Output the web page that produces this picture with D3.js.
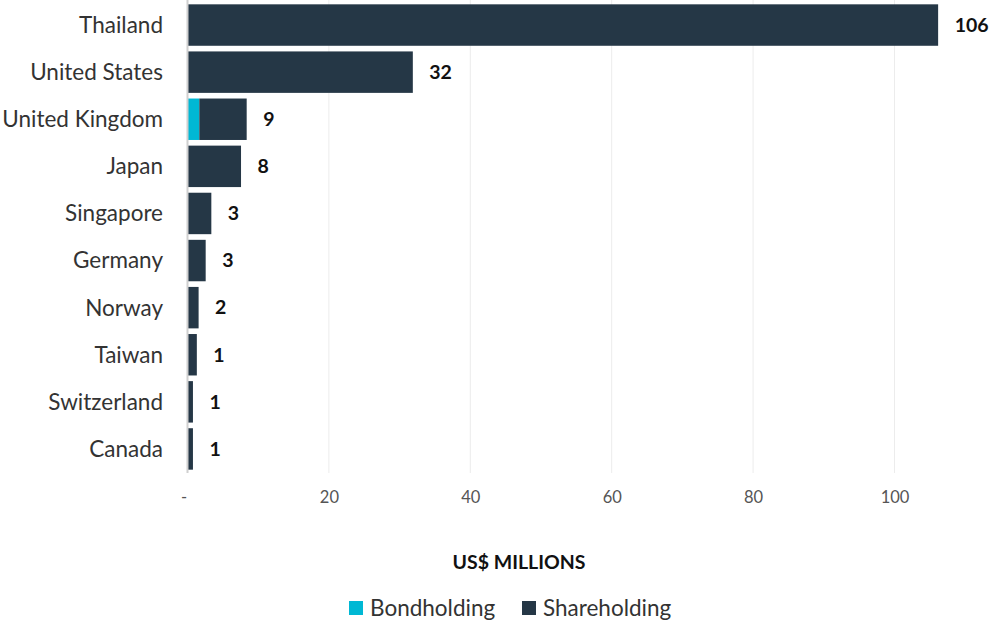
<!DOCTYPE html>
<html>
<head>
<meta charset="utf-8">
<script src="https://cdn.jsdelivr.net/npm/d3@7"></script>
<style>
  html, body { margin: 0; padding: 0; background: #fff; }
  svg { display: block; font-family: Lato, "Noto Sans", sans-serif; }
</style>
</head>
<body>
<svg id="chart" width="989" height="622"></svg>
<script>
const categories = ["Thailand", "United States", "United Kingdom", "Japan", "Singapore", "Germany", "Norway", "Taiwan", "Switzerland", "Canada"];
const bondholding = [0, 0, 1.6, 0, 0, 0, 0, 0, 0, 0];
const shareholding = [106.1, 31.8, 6.7, 7.5, 3.3, 2.5, 1.5, 1.25, 0.7, 0.7];
const valueLabels = ["106", "32", "9", "8", "3", "3", "2", "1", "1", "1"];
const xTicks = [0, 20, 40, 60, 80, 100];
const seriesNames = ["Bondholding", "Shareholding"];
const seriesColors = ["#00B8D4", "#253746"];

const svg = d3.select("#chart");
const x = d3.scaleLinear().domain([0, 112]).range([187.5, 187.5 + 7.07 * 112]);
const y = d3.scaleBand().domain(categories).range([1.5, 472.5]).paddingInner(0.12).paddingOuter(0.06);

// gridlines
svg.append("g").selectAll("line").data(xTicks.filter(d => d > 0)).join("line")
  .attr("x1", d => x(d)).attr("x2", d => x(d))
  .attr("y1", 0).attr("y2", 473)
  .attr("stroke", "#ececec").attr("stroke-width", 1);

// stacked data
const rows = categories.map((c, i) => ({ cat: c, Bondholding: bondholding[i], Shareholding: shareholding[i] }));
const stack = d3.stack().keys(seriesNames)(rows);

svg.append("g").selectAll("g").data(stack).join("g")
  .attr("fill", (d, i) => seriesColors[i])
  .selectAll("rect").data(d => d).join("rect")
  .attr("x", d => x(d[0]) + 0.5)
  .attr("y", d => y(d.data.cat))
  .attr("width", d => Math.max(0, x(d[1]) - x(d[0])))
  .attr("height", y.bandwidth());

// zero axis line
svg.append("line").attr("x1", x(0)).attr("x2", x(0)).attr("y1", 0).attr("y2", 473)
  .attr("stroke", "#d0d0d0").attr("stroke-width", 2);

// value labels
svg.append("g").selectAll("text").data(rows).join("text")
  .attr("x", (d, i) => x(bondholding[i] + shareholding[i]) + 17)
  .attr("y", d => y(d.cat) + y.bandwidth() / 2)
  .attr("dy", "0.35em")
  .attr("font-size", 19.5).attr("font-weight", "bold").attr("fill", "#111")
  .text((d, i) => valueLabels[i]);

// category labels
svg.append("g").selectAll("text").data(categories).join("text")
  .attr("x", 163).attr("y", d => y(d) + y.bandwidth() / 2)
  .attr("dy", "0.35em").attr("text-anchor", "end")
  .attr("font-size", 22.5).attr("fill", "#333")
  .text(d => d);

// x axis tick labels
const xAxis = d3.axisBottom(x).tickValues(xTicks).tickSize(0).tickPadding(0)
  .tickFormat(d => d === 0 ? "-" : d);
const gx = svg.append("g").attr("transform", "translate(0,491)").call(xAxis);
gx.select(".domain").remove();
gx.selectAll("text").attr("font-size", 16.5).attr("fill", "#555").attr("font-family", "Lato, sans-serif")
  .attr("transform", (d) => d === 0 ? "translate(-4,0)" : null);

// axis title
svg.append("text").attr("x", 519).attr("y", 562).attr("dy", "0.35em")
  .attr("text-anchor", "middle").attr("font-size", 19.5).attr("font-weight", "bold").attr("fill", "#111")
  .text("US$ MILLIONS");

// legend
const legendX = [349, 522];
const lg = svg.append("g").selectAll("g").data(seriesNames).join("g")
  .attr("transform", (d, i) => `translate(${legendX[i]},608)`);
lg.append("rect").attr("x", 0).attr("y", -7).attr("width", 14).attr("height", 14)
  .attr("fill", (d, i) => seriesColors[i]);
lg.append("text").attr("x", 21).attr("dy", "0.35em").attr("font-size", 22.5).attr("fill", "#333")
  .text(d => d);
</script>
</body>
</html>
